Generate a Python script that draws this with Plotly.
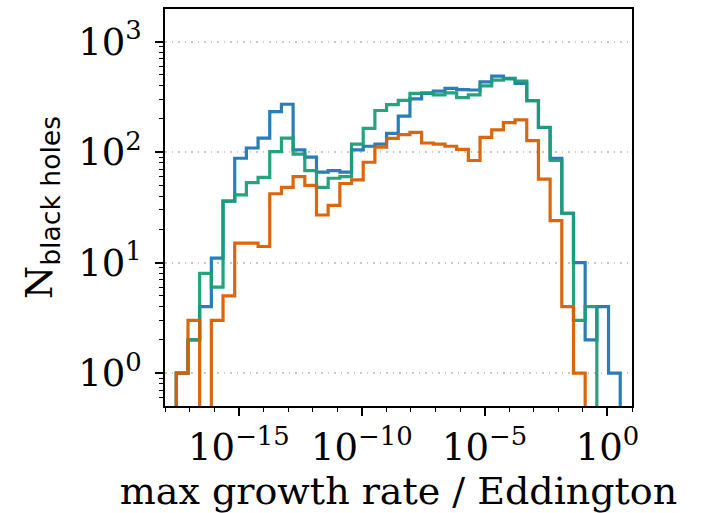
import numpy as np
import plotly.graph_objects as go

# log10 bin edges of the max growth rate histogram (38 equal bins)
log_edge_lo = -17.55
log_edge_hi = 0.52
n_bins = 38

# counts per bin, three black-hole samples
counts_blue = [1, 2, 4, 11, 36, 88, 109, 134, 233, 271, 105, 90, 66, 68, 66, 105,
               113, 118, 148, 212, 303, 340, 357, 377, 368, 365, 433, 488, 464, 419,
               292, 167, 88, 28, 10, 2, 4, 1]
counts_green = [1, 2, 8, 6, 36, 41, 53, 59, 101, 134, 96, 68, 48, 58, 60, 118,
                164, 238, 269, 294, 340, 343, 329, 343, 311, 329, 397, 449, 459, 440,
                292, 168, 84, 28, 3, 4, 0, 0]
counts_orange = [1, 3, 0, 3, 5, 15, 15, 14, 42, 48, 60, 50, 27, 33, 52, 56,
                 81, 111, 133, 144, 151, 121, 118, 113, 106, 84, 136, 159, 185, 196,
                 127, 57, 24, 4, 1, 0, 0, 0]

x_tick_exps = [-15, -10, -5, 0]
y_tick_exps = [0, 1, 2, 3]

edges = 10 ** np.linspace(log_edge_lo, log_edge_hi, n_bins + 1)
FLOOR = 1e-3  # empty bins drop below the visible y range


def step_path(counts):
    c = [v if v > 0 else FLOOR for v in counts]
    xs = [edges[0]] + list(edges[:-1]) + [edges[-1], edges[-1]]
    ys = [FLOOR] + c + [c[-1], FLOOR]
    return xs, ys


fig = go.Figure()
series = [
    (counts_blue, "#1f77b4"),
    (counts_green, "#1b9e77"),
    (counts_orange, "#d95f02"),
]
for counts, color in series:
    xs, ys = step_path(counts)
    fig.add_trace(go.Scatter(
        x=xs, y=ys, mode="lines", line_shape="hv",
        line=dict(color=color, width=3.2), opacity=0.95,
        showlegend=False, hoverinfo="skip",
    ))

serif = "DejaVu Serif"
x_minor = [10.0 ** k for k in range(-18, 2) if k not in x_tick_exps]
y_minor = [m * 10.0 ** k for k in range(-1, 4) for m in range(2, 10)
           if 0.505 < m * 10.0 ** k < 1970]

fig.update_layout(
    width=706, height=513,
    margin=dict(l=165, r=74, t=7, b=107),
    paper_bgcolor="white", plot_bgcolor="white",
    font=dict(family=serif, color="black", size=38),
    xaxis=dict(
        type="log", range=[-18.01, 1.0],
        showline=True, linecolor="black", linewidth=1.6, mirror=True,
        ticks="outside", ticklen=8, tickwidth=1.5, tickcolor="black",
        tickvals=[10.0 ** e for e in x_tick_exps],
        ticktext=["10<sup>%s</sup>" % (str(e).replace("-", "\u2212")) for e in x_tick_exps],
        tickfont=dict(family=serif, size=37),
        minor=dict(ticks="outside", ticklen=4.5, tickwidth=1.2, tickcolor="black",
                   tickvals=x_minor, showgrid=False),
        showgrid=False, zeroline=False,
        title=dict(text="max growth rate / Eddington",
                   font=dict(family=serif, size=38), standoff=10),
    ),
    yaxis=dict(
        type="log", range=[-0.297, 3.295],
        showline=True, linecolor="black", linewidth=1.6, mirror=True,
        ticks="outside", ticklen=8, tickwidth=1.5, tickcolor="black",
        tickvals=[10.0 ** e for e in y_tick_exps],
        ticktext=["10<sup>%d</sup>" % e for e in y_tick_exps],
        tickfont=dict(family=serif, size=37),
        ticklabelstandoff=6,
        minor=dict(ticks="outside", ticklen=4.5, tickwidth=1.2, tickcolor="black",
                   tickvals=y_minor, showgrid=False),
        showgrid=True, gridcolor="#c8c8c8", gridwidth=1.5, griddash="1.5px,5px",
        zeroline=False,
        title=dict(text="N<sub><span style='font-family:DejaVu Sans'>black holes</span></sub>",
                   font=dict(family=serif, size=38), standoff=14),
    ),
)

fig.write_html("out.html")
